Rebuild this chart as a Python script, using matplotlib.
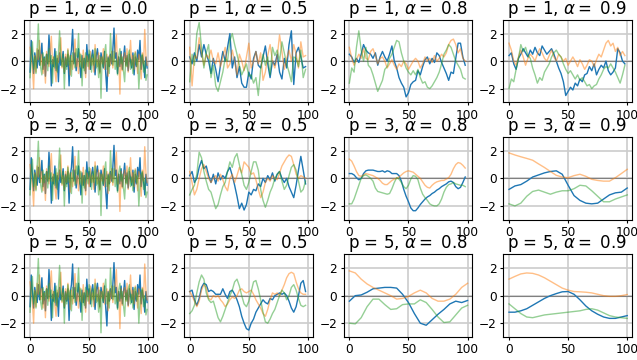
import numpy as np
import matplotlib
matplotlib.use("Agg")
import matplotlib.pyplot as plt

p_values = [1, 3, 5]
alpha_values = [0.0, 0.5, 0.8, 0.9]

# alpha = 0.0 : raw noise, same in every row
noise_blue = [-0.8, 1.5, 0.2, -0.9, 0.6, 0.0, -0.5, 0.8, -0.3, 0.4,
              1.3, -0.6, 0.3, -1.1, 0.5, -0.2, 1.9, 0.4, -1.8, 0.1,
              -0.4, 0.9, -0.7, 0.2, -1.5, 0.6, -0.3, 0.1, 0.7, -0.9,
              0.3, -0.4, 0.5, -1.8, 0.2, 0.8, 2.3, -0.2, 0.6, -0.7,
              0.1, 0.9, -0.3, -1.2, 0.4, -0.5, 0.2, -0.9, 1.2, 0.0,
              0.5, -0.6, 0.3, 0.8, -0.2, -1.0, 0.4, 0.9, -0.1, -0.8,
              0.6, 0.1, -0.5, 0.7, -0.9, -2.2, 0.3, -0.4, 0.5, -0.2,
              0.8, 2.4, 0.2, 0.6, -0.9, 0.3, -0.4, 0.7, -0.6, 0.2,
              1.1, -0.3, 0.4, -0.7, 0.5, 0.0, -0.5, 0.6, -1.0, 0.3,
              -0.4, 0.8, 0.1, 1.5, -0.6, 0.4, -0.2, -1.2, 0.3, -0.5]
noise_orange = [1.0, 0.2, -0.5, -2.0, 0.4, -0.8, 0.9, 0.1, 1.5, -0.3,
                0.5, -0.9, 0.2, -1.6, 0.7, 0.0, -0.4, 0.8, 1.8, -0.2,
                0.3, -0.7, -1.5, 0.4, -0.1, 0.6, 1.7, -0.5, 0.2, -0.8,
                0.5, -0.3, 0.9, 0.1, -1.0, 0.4, -0.6, 0.3, 1.6, -0.4,
                0.2, -0.9, 0.6, 0.0, -0.5, 0.8, -0.2, -1.2, 0.4, 0.1,
                -0.6, 0.7, -0.3, 0.2, -0.8, 1.2, 0.0, -0.4, 0.6, -0.9,
                0.3, -0.2, 0.9, -0.6, 0.1, 0.5, -1.1, 0.4, -0.3, 0.7,
                -0.5, 0.2, 0.8, 1.9, -0.4, 0.3, -2.4, 0.5, -0.7, 0.1,
                0.6, -0.4, 0.9, -0.8, 0.2, 1.5, -0.3, 0.4, -0.6, 0.7,
                0.0, -0.9, 0.5, 0.2, -1.3, 0.6, -0.2, 2.3, 0.4, -0.3]
noise_green = [-1.2, 0.5, 1.4, -0.6, 0.3, -0.9, 0.8, 2.7, 0.4, -0.5,
               -1.0, 0.6, -0.3, 0.2, 0.5, -0.7, 0.9, -0.2, 0.4, -1.6,
               0.3, -0.5, 0.7, -0.8, 0.6, 2.2, 0.1, -0.4, 0.5, -2.0,
               0.2, -0.6, 0.8, -0.3, 0.4, -1.1, 0.6, 0.0, -0.5, 0.9,
               0.3, 2.0, -0.4, 0.5, -1.8, 0.2, -0.7, 0.6, 0.0, -0.4,
               0.8, 0.2, -0.8, 0.5, -0.3, 0.9, -0.5, 0.1, -1.2, 0.4,
               -2.7, 0.3, -0.4, 0.6, 1.2, -0.6, 0.2, -0.9, 2.0, 0.5,
               -0.3, 0.7, -0.6, 0.1, -1.0, 0.4, 0.9, -0.2, 0.3, -0.7,
               -1.5, 0.2, -0.4, 0.5, 0.8, -0.6, 0.1, -0.9, 0.4, 0.6,
               -0.3, 0.2, -2.0, -0.5, 0.3, 0.5, -0.8, 0.0, -1.4, -1.0]

# p = 1 (sampled every 2 steps)
p1_a05_blue = [0.3, -0.2, 0.6, 0.0, 1.2, 0.3, 1.2, 0.5, 0.0, -0.9, 0.2, -0.6, -1.5, -0.3, 0.7, 0.0, 1.0,
               2.0, -0.5, 0.3, -1.2, -0.4, -1.6, -1.9, -1.9, -0.8, -1.3, 0.2, 0.7, -0.3, -0.5, 0.3, 1.1,
               -0.2, -1.2, 0.0, -0.3, 0.5, -0.8, -1.3, 0.2, -0.5, 1.2, 2.2, -1.7, 0.6, 1.0, 0.3, -0.5, -0.4]
p1_a05_orange = [1.0, -1.8, 0.4, 0.2, 1.7, 0.6, -0.3, 0.5, 0.2, 0.8, 0.0, -0.2, 0.6, -0.4, 0.3, 1.0, -0.5,
                 -0.2, 0.8, 0.0, -1.0, 0.5, 0.0, -0.7, 0.3, 1.3, -0.5, 0.0, 0.7, -0.2, 0.6, -1.4, -0.8,
                 0.4, 1.2, 0.0, -0.5, 0.3, 1.9, 0.7, -0.6, 0.2, 0.8, 0.0, 1.2, 0.5, -0.5, 1.4, 0.3, 0.4]
p1_a05_green = [-1.5, 0.5, -0.3, 2.0, 2.8, 1.0, -0.5, 0.6, 1.2, -1.2, -0.3, -1.8, -2.2, -1.5, -0.8, 0.2, 0.0,
                1.5, 2.0, 1.2, 0.5, -0.3, -1.0, -0.6, -0.2, -1.1, -1.0, -1.6, -1.2, -2.5, -0.6, 0.5, -0.3,
                0.3, -1.0, 1.0, 0.4, 0.8, 0.0, 1.4, 0.6, -0.2, -0.8, -1.5, 0.3, 0.2, -0.4, 0.8, -1.2, -0.6]
p1_a08_blue = [0.5, 0.3, -0.1, 0.2, -0.1, 0.5, 1.2, 0.8, 0.6, 0.5, 0.2, 0.6, -0.3, 0.3, 0.7, 0.3, 0.0,
               0.5, 1.1, 0.0, -0.5, -1.2, -1.6, -1.9, -2.6, -2.3, -1.7, -1.5, -1.4, -0.7, -1.0, -0.4, 0.1,
               0.3, -0.2, 0.2, -0.1, 0.6, 0.4, -0.1, -0.5, -0.9, -1.4, -0.8, -0.9, 0.2, 1.3, 1.3, 0.3, -0.3]
p1_a08_orange = [1.0, 0.2, -0.3, 0.1, 0.5, 0.2, 0.9, 0.2, 0.1, 0.7, 0.9, 0.4, -0.2, 0.2, 0.3, 0.0, -0.5,
                 -0.2, 0.1, -0.3, -0.6, -0.2, -0.4, 0.0, -0.2, -0.6, -0.3, 0.0, 0.2, 0.0, -0.5, -0.2, 0.3,
                 0.0, 0.2, -0.1, 0.4, 0.0, 0.2, 0.5, 0.3, 0.6, 1.2, 1.5, 1.6, 1.2, 0.6, 0.9, 0.2, 0.0]
p1_a08_green = [-1.6, -0.5, -0.8, 1.0, 2.2, 0.8, 0.0, 1.0, -0.3, -0.5, -1.0, -1.6, -2.2, -1.8, -1.4, -0.6,
                -0.4, 0.2, 0.5, 1.0, 1.5, 1.4, 0.6, 0.0, -0.5, -0.8, -1.0, -0.7, -1.0, -0.6, -1.2, -1.6,
                -1.5, -1.9, -2.0, -1.8, -1.5, -1.2, -0.8, -0.2, 0.5, 0.8, 1.2, 1.0, 0.5, 0.0, -0.3, -0.6,
                -1.2, -1.3]
p1_a09_blue = [0.4, 0.6, -0.2, -0.6, 0.2, 0.5, 0.9, 0.6, 0.3, 0.8, 0.5, 1.0, 0.6, 0.4, 1.1, 0.8, 0.5,
               0.7, 0.9, 0.5, 0.0, -0.5, -0.9, -1.5, -2.5, -2.2, -1.9, -2.1, -1.6, -1.8, -1.3, -1.5, -1.0,
               -0.9, -0.4, -0.7, -0.2, -1.0, -0.6, -0.3, -0.5, 0.0, -0.7, -1.0, -0.8, -0.5, 0.9, 0.6, 0.0,
               -0.2]
p1_a09_orange = [1.3, 0.8, 0.0, -0.3, 0.3, 0.8, 0.3, -0.3, 0.2, 0.5, 0.3, 0.0, 0.5, 0.9, 0.6, 0.2, 0.0,
                 0.4, 0.8, 0.3, 0.0, 0.5, 0.3, 0.0, 0.2, -0.3, 0.0, 0.3, 0.0, -0.4, 0.1, -0.2, -0.6, -0.3,
                 0.1, 0.0, -0.4, 0.1, 0.5, 0.3, 0.8, 1.3, 1.5, 1.1, 1.3, 0.7, 1.0, 0.4, 0.7, 0.4]
p1_a09_green = [-2.0, -1.3, -1.5, -0.6, 0.2, 1.2, 0.7, 1.0, 0.4, 0.2, -0.5, -1.0, -1.6, -1.2, -1.4, -0.8,
                -0.5, -0.2, 0.3, 0.6, 0.8, 0.5, 0.3, -0.2, -0.6, -0.9, -0.7, -1.0, -1.3, -1.0, -1.4, -1.2,
                -1.5, -1.8, -1.7, -2.0, -1.8, -1.7, -1.3, -1.0, -0.6, -0.4, -0.5, -0.2, -0.5, -0.8, -1.2,
                -1.6, -1.0, -0.3]

# alpha = 0.5, p = 3 and 5 (every 2 steps)
p3_a05_blue = [0.2, 0.5, -0.3, 0.0, 0.8, 1.3, 0.7, 0.9, 0.2, -0.3, 0.3, -0.4, 0.4, -0.1, 0.2, 0.0, 0.5,
               0.8, 0.2, -0.5, -1.3, -2.2, -1.8, -2.3, -1.9, -1.0, -1.2, -0.8, -0.9, -0.4, -0.6, 0.0, -0.3,
               0.2, -0.1, 0.4, -0.2, 0.3, 0.5, 0.0, -0.3, 0.0, -0.6, -1.0, -1.4, -0.5, 0.6, 1.6, 0.6, -0.4]
p3_a05_orange = [0.5, -0.3, -1.2, -0.8, 0.0, 0.7, 1.0, 0.5, 0.0, -0.3, 0.0, 0.2, -0.2, 0.3, -0.1, -0.6,
                 -0.9, 0.0, 0.3, -0.3, 0.2, 0.8, 0.4, 1.2, 1.0, 0.8, 0.3, 0.4, -0.1, -0.8, -1.4, -1.0, -0.3,
                 0.0, -0.2, 0.2, 0.0, -0.1, 0.4, 0.9, 1.2, 1.5, 1.7, 1.6, 1.0, 0.3, 0.0, 0.2, 0.1, 0.0]
p3_a05_green = [-1.2, -0.8, -0.5, 0.3, 1.9, 1.5, 0.5, -0.2, -0.8, -1.0, -1.6, -2.2, -1.9, -1.2, -0.6, -0.3,
                0.5, 1.2, 0.8, 1.5, 1.8, 1.0, 0.3, -0.5, -0.8, -0.3, 0.5, 1.2, 1.2, 0.6, -0.8, -1.6, -2.1,
                -1.6, -1.0, -0.6, 0.0, 0.3, 0.5, -0.2, -0.8, -0.5, 0.2, 0.8, 1.0, 0.6, -0.2, -1.0, -0.8,
                -0.2]
p5_a05_blue = [0.3, 0.4, -0.3, -0.7, -0.2, 0.6, 0.9, 0.8, 0.3, 0.4, 0.3, 0.1, 0.1, 0.1, 0.5, 0.1, -0.2,
               0.3, 0.4, 0.1, -0.3, -0.8, -1.5, -2.0, -2.4, -2.5, -2.0, -1.7, -1.2, -0.9, -0.6, -0.3, -0.5,
               -0.6, -0.2, -0.3, 0.0, 0.1, 0.2, 0.1, 0.2, 0.0, -0.4, -0.9, -1.2, -0.8, 0.0, 0.9, 1.1, 0.3]
p5_a05_orange = [0.3, 0.0, -0.4, -0.8, -0.4, 0.4, 0.8, 0.6, -0.2, -0.3, 0.0, -0.1, 0.0, -0.3, -0.5, -0.8,
                 -0.6, -0.3, -0.1, -0.2, 0.0, 0.4, 0.5, 0.3, 0.2, 0.3, 0.4, 0.1, -0.3, -0.6, -0.9, -1.3,
                 -1.5, -1.0, -0.3, 0.2, 0.1, 0.2, 0.0, 0.4, 0.8, 1.3, 1.6, 1.7, 1.6, 1.0, 0.5, 0.2, 0.1, 0.1]
p5_a05_green = [-1.3, -1.1, -0.7, 0.2, 1.0, 1.5, 1.2, 0.2, -0.3, -0.5, -0.4, -1.0, -1.6, -1.9, -1.5, -1.0,
                -0.5, 0.0, 0.4, 1.0, 1.2, 0.7, 0.0, -0.6, -0.8, -0.4, 0.3, 1.0, 1.1, 0.5, -0.3, -1.2, -1.9,
                -2.0, -1.7, -1.3, -1.0, -0.5, 0.0, 0.4, 0.2, -0.3, 0.0, 0.6, 0.8, 0.4, -0.2, -0.7, -0.8,
                -0.7]

# p = 3, alpha = 0.8 (every 2 steps)
p3_a08_blue = [0.35, 0.35, 0.25, 0.05, -0.1, 0.0, 0.35, 0.55, 0.6, 0.6, 0.6, 0.55, 0.5, 0.5, 0.55, 0.45,
               0.55, 0.5, 0.35, 0.35, 0.35, 0.2, -0.2, -0.8, -1.3, -1.7, -2.15, -2.35, -2.35, -2.15, -1.9,
               -1.7, -1.5, -1.35, -1.25, -1.1, -1.0, -0.85, -0.75, -0.6, -0.5, -0.4, -0.25, -0.2, -0.3,
               -0.6, -0.75, -0.65, -0.3, 0.1]
p3_a08_orange = [1.4, 1.25, 0.9, 0.5, 0.2, 0.15, 0.25, 0.35, 0.3, 0.25, 0.2, 0.1, 0.0, -0.15, -0.35, -0.45,
                 -0.45, -0.3, -0.15, -0.05, 0.0, 0.1, 0.25, 0.4, 0.5, 0.55, 0.5, 0.45, 0.3, 0.15, 0.0,
                 -0.25, -0.5, -0.65, -0.7, -0.5, -0.35, -0.25, -0.2, -0.15, -0.15, -0.05, 0.05, 0.3, 0.7,
                 1.0, 1.15, 1.1, 0.95, 0.75]
p3_a08_green = [-1.85, -1.85, -1.5, -1.0, -0.5, 0.0, 0.2, 0.25, 0.15, 0.0, -0.2, -0.7, -0.95, -1.0, -1.05,
                -1.1, -1.15, -1.1, -0.75, -0.3, 0.05, -0.05, -0.3, -0.6, -0.75, -0.5, -0.05, 0.2, 0.15,
                -0.1, -0.7, -1.15, -1.4, -1.6, -1.85, -1.95, -2.0, -2.0, -1.85, -1.5, -1.0, -0.65, -0.45,
                -0.4, -0.3, -0.4, -0.45, -0.5, -0.5, -0.6]

# smooth panels (every 5 steps)
p3_a09_blue = [-0.8, -0.55, -0.45, -0.2, 0.1, 0.25, 0.4, 0.5, 0.55, 0.3, -0.5, -1.25, -1.6, -1.8, -1.85,
               -1.8, -1.5, -1.2, -1.05, -1.0, -0.7]
p3_a09_orange = [1.85, 1.7, 1.57, 1.45, 1.32, 1.05, 0.79, 0.5, 0.22, 0.1, 0.05, 0.2, 0.3, 0.15, -0.07,
                 -0.15, -0.2, -0.2, 0.05, 0.35, 0.66]
p3_a09_green = [-1.85, -2.0, -1.8, -1.3, -0.95, -0.85, -1.0, -1.15, -1.0, -0.9, -0.9, -0.75, -0.5, -0.55,
                -0.9, -1.3, -1.7, -1.7, -1.5, -1.35, -1.2]
p5_a08_blue = [-0.4, 0.0, 0.05, 0.25, 0.5, 0.55, 0.6, 0.6, 0.55, 0.1, -0.5, -1.3, -2.0, -2.15, -1.75,
               -1.35, -1.0, -0.6, -0.4, -0.5, -0.35]
p5_a08_orange = [1.8, 1.65, 1.2, 0.85, 0.6, 0.4, 0.2, 0.0, -0.25, -0.2, -0.05, 0.2, 0.4, 0.2, -0.2, -0.4,
                 -0.4, -0.25, 0.1, 0.6, 0.9]
p5_a08_green = [-2.0, -2.05, -1.6, -0.8, -0.25, -0.25, -0.65, -1.0, -0.95, -0.65, -0.6, -0.6, -0.3, -0.5,
                -1.0, -1.55, -1.95, -1.9, -1.4, -0.9, -0.7]
p5_a09_blue = [-1.2, -1.2, -1.1, -0.95, -0.7, -0.45, -0.2, 0.0, 0.15, 0.28, 0.3, 0.1, -0.3, -0.75, -1.1,
               -1.35, -1.55, -1.65, -1.65, -1.55, -1.45]
p5_a09_orange = [1.2, 1.4, 1.58, 1.65, 1.62, 1.5, 1.3, 1.05, 0.8, 0.55, 0.4, 0.3, 0.28, 0.25, 0.2, 0.1,
                 0.0, -0.05, -0.05, 0.0, 0.08]
p5_a09_green = [-0.6, -0.95, -1.3, -1.55, -1.6, -1.5, -1.4, -1.35, -1.3, -1.25, -1.2, -1.15, -1.1, -1.0,
                -0.95, -1.05, -1.25, -1.45, -1.55, -1.6, -1.65]

x_full = np.arange(100)
x_half = np.arange(0, 100, 2)
x_coarse = np.arange(0, 101, 5)

noise = (x_full, noise_blue, noise_orange, noise_green)
panels = {
    (1, 0.0): noise,
    (3, 0.0): noise,
    (5, 0.0): noise,
    (1, 0.5): (x_half, p1_a05_blue, p1_a05_orange, p1_a05_green),
    (1, 0.8): (x_half, p1_a08_blue, p1_a08_orange, p1_a08_green),
    (1, 0.9): (x_half, p1_a09_blue, p1_a09_orange, p1_a09_green),
    (3, 0.5): (x_half, p3_a05_blue, p3_a05_orange, p3_a05_green),
    (5, 0.5): (x_half, p5_a05_blue, p5_a05_orange, p5_a05_green),
    (3, 0.8): (x_half, p3_a08_blue, p3_a08_orange, p3_a08_green),
    (3, 0.9): (x_coarse, p3_a09_blue, p3_a09_orange, p3_a09_green),
    (5, 0.8): (x_coarse, p5_a08_blue, p5_a08_orange, p5_a08_green),
    (5, 0.9): (x_coarse, p5_a09_blue, p5_a09_orange, p5_a09_green),
}

fig, axes = plt.subplots(3, 4, figsize=(6.37, 3.6), dpi=100)
fig.subplots_adjust(left=0.038, right=0.992, bottom=0.064, top=0.945, wspace=0.24, hspace=0.42)

for i, p in enumerate(p_values):
    for j, a in enumerate(alpha_values):
        ax = axes[i, j]
        x, b, o, g = panels[(p, a)]
        ax.grid(True, color="#cccccc", lw=1.2)
        ax.axhline(0, color="#808080", lw=0.8)
        ax.plot(x, b, color="C0", lw=1.0)
        ax.plot(x, o, color="C1", lw=1.0, alpha=0.5)
        ax.plot(x, g, color="C2", lw=1.0, alpha=0.5)
        ax.set_xlim(-4.95, 103.95)
        ax.set_ylim(-3, 3)
        ax.set_xticks([0, 50, 100])
        ax.set_yticks([-2, 0, 2])
        ax.tick_params(labelsize=8.7, length=2.5, pad=2)
        ax.set_title(f"p = {p}, $\\alpha=$ {a}", fontsize=12, pad=2.5)

fig.savefig("out.png", dpi=100)
